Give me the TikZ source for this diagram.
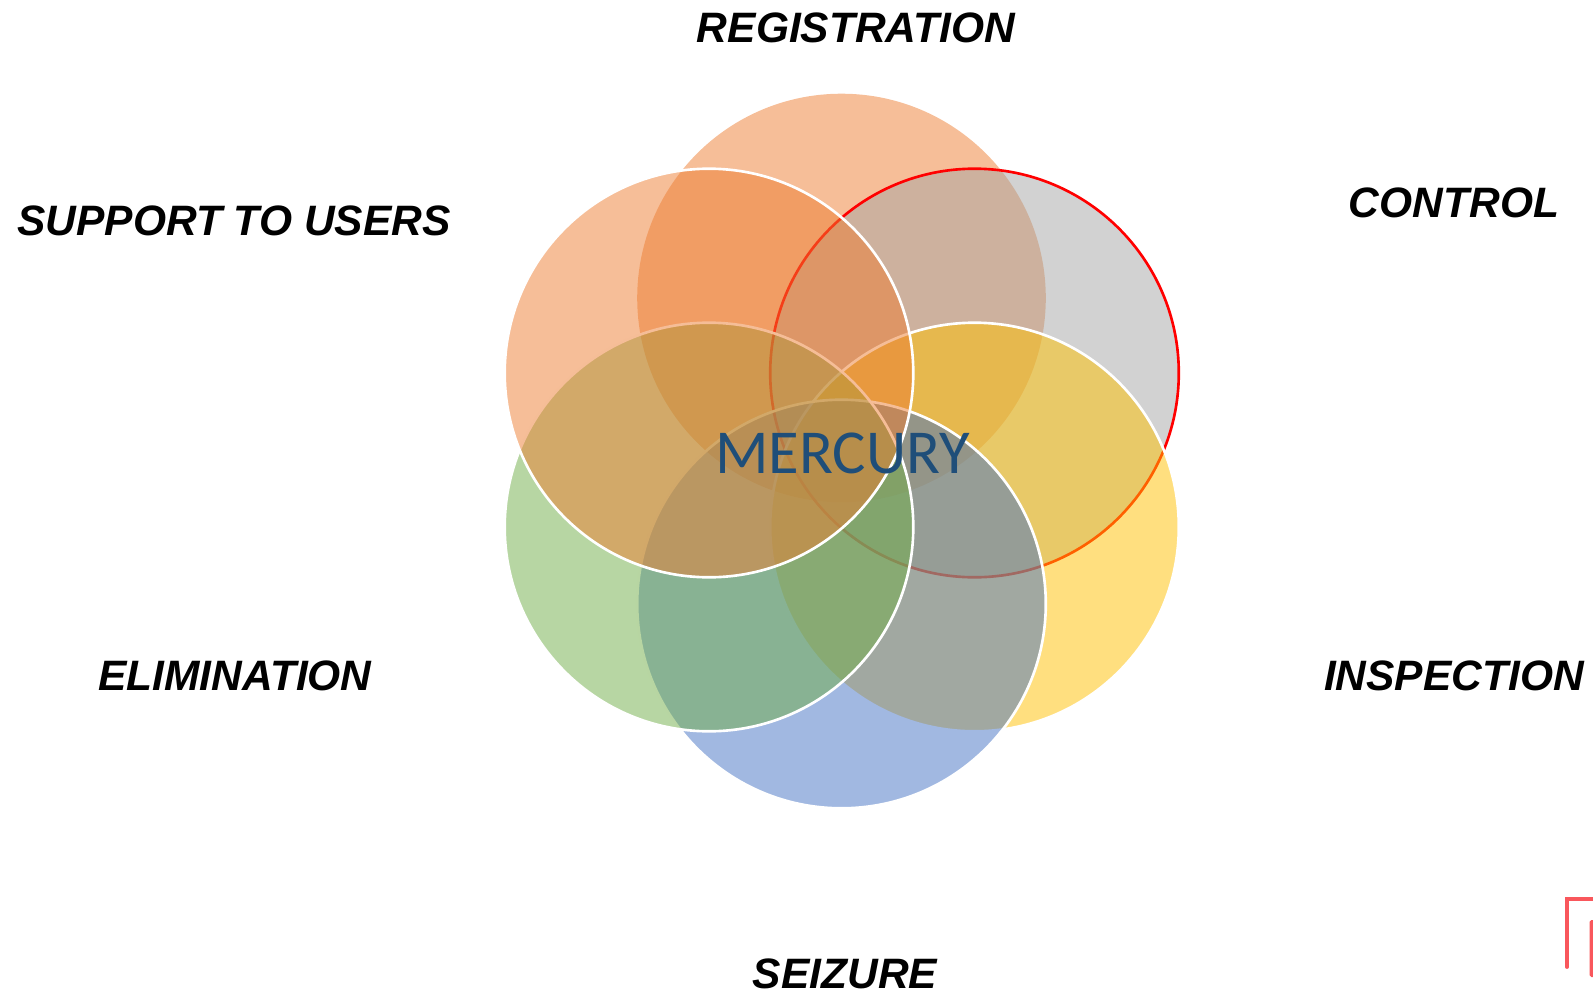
\documentclass[tikz,border=0pt]{standalone}
\usepackage{fontspec}
\setmainfont{Liberation Sans}
\newfontfamily\calibrifont{Carlito}
\definecolor{petalorange}{HTML}{ED7D31}
\definecolor{petalgray}{HTML}{A5A5A5}
\definecolor{petalyellow}{HTML}{FFC000}
\definecolor{petalblue}{HTML}{4472C4}
\definecolor{petalgreen}{HTML}{70AD47}
\definecolor{mercuryblue}{HTML}{1F4E79}
\definecolor{logored}{HTML}{F9575C}
\tikzset{
	petal/.style = {fill opacity = 0.5, line width = 1.5pt},
	petallabel/.style = {font = \fontsize{24.2}{28}\selectfont\bfseries\itshape, text = black, inner sep = 0pt}
}

\begin{document}
\begin{tikzpicture}[x = 0.02cm, y = -0.02cm]
	\useasboundingbox (0,0) rectangle (1593,994);
	
	\fill[petal, fill = petalorange] (841.5,298) circle (204.3);
	\draw[petal, draw = red, fill = petalgray] (974.5,373) circle (204.3);
	\draw[petal, draw = white, fill = petalyellow] (974.5,527) circle (204.3);
	\draw[petal, draw = white, fill = petalblue] (841.5,604) circle (204.3);
	\draw[petal, draw = white, fill = petalgreen] (709,527) circle (204.3);
	\draw[petal, draw = white, fill = petalorange] (709,373) circle (204.3);
	
	\node[font = \calibrifont\fontsize{35.6}{42}\selectfont, text = mercuryblue, inner sep = 0pt] (mercury) at (842.5,453) {MERCURY};
	
	\node[petallabel] (registration) at (856,27.5) {REGISTRATION};
	\node[petallabel] (control) at (1454,203) {CONTROL};
	\node[petallabel] (support) at (234,220.5) {SUPPORT TO USERS};
	\node[petallabel] (elimination) at (235,676) {ELIMINATION};
	\node[petallabel] (inspection) at (1454,676) {INSPECTION};
	\node[petallabel] (seizure) at (845,973.5) {SEIZURE};
	
	\draw[logored, line width = 2.2pt, line cap = round] (1567,967) -- (1567,899) -- (1594,899);
	\fill[logored, rounded corners = 1pt] (1589.5,920) rectangle (1596,977);
\end{tikzpicture}
\end{document}
